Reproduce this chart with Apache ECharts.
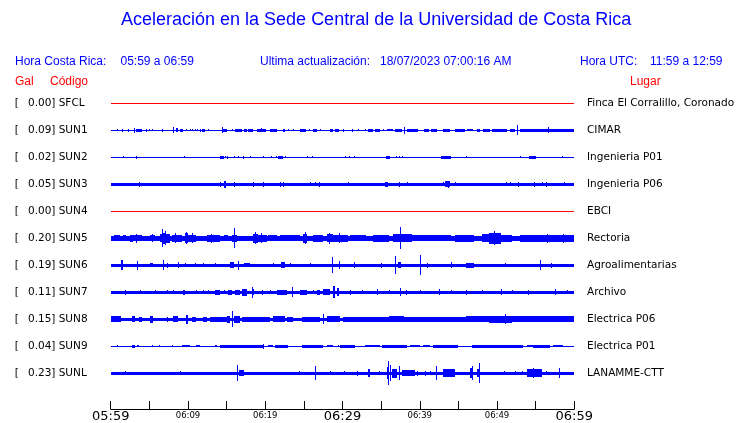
<!DOCTYPE html>
<html><head><meta charset="utf-8">
<script src="https://cdn.jsdelivr.net/npm/echarts@6/dist/echarts.min.js"></script>
<style>html,body{margin:0;padding:0;background:#fff}#c{width:740px;height:423px}</style>
</head><body><div id="c"></div>
<script>
// ---------------- data ----------------
const CODES  = ['SFCL','SUN1','SUN2','SUN3','SUN4','SUN5','SUN6','SUN7','SUN8','SUN9','SUNL'];
const GAL    = [0.00, 0.09, 0.02, 0.05, 0.00, 0.20, 0.19, 0.11, 0.15, 0.04, 0.23];
const PLACES = ['Finca El Corralillo, Coronado','CIMAR','Ingenieria P01','Ingenieria P06','EBCI',
                'Rectoria','Agroalimentarias','Archivo','Electrica P06','Electrica P01','LANAMME-CTT'];
// half-thickness of each trace's background band (display amplitude units)
const BASE   = [0.5, 0.5, 0.5, 1.5, 0.5, 2.5, 1.5, 1.5, 1.7, 0.5, 1.5];
// bursts: [start minute, end minute, half amplitude]  (minutes after 05:59)
const EV_SFCL = [];
const EV_SUN1 = [[0.86,0.86,1],[1.4,1.6,1.5],[2.3,2.3,1.5],[3.0,3.0,2.5],[3.3,4.0,1.5],[4.6,4.6,1.5],[4.9,4.9,1],[5.4,5.4,1],[6.6,6.6,1.5],[8.0,8.0,3],[8.45,8.75,2],[9.0,9.4,1.5],[9.8,9.8,1],[10.2,10.2,1],[10.5,10.5,1],[10.9,10.9,1],[11.2,11.2,1],[11.6,11.6,1.5],[11.8,12.2,1.5],[12.6,12.6,1],[14.4,14.4,3],[14.5,15.0,1.5],[15.7,15.7,1],[16.1,17.0,1.5],[17.25,17.7,1.5],[17.8,18.45,1.5],[18.9,20.1,1.5],[19.5,19.5,2],[20.6,21.5,1.5],[22.3,22.55,1.5],[23.0,23.0,1],[23.6,23.6,1],[24.5,25.3,1.5],[25.6,25.6,1],[26.2,26.7,1.5],[27.1,27.1,1],[28.4,28.8,1.5],[29.0,29.5,1.5],[30.0,30.0,1.5],[31.2,31.4,1.5],[32.0,32.0,1],[32.9,32.9,1],[33.3,34.0,1.5],[34.2,34.85,1.5],[35.3,35.3,1],[35.7,36.6,1],[36.8,37.7,1.5],[38.0,38.0,3.5],[38.3,39.8,1.5],[40.5,41.2,1.5],[41.5,42.2,1.5],[43.0,43.9,1.5],[44.6,45.85,1.5],[46.1,46.9,1],[47.4,47.8,1.5],[48.2,49.1,1.5],[49.3,51.25,1.5],[51.7,52.3,1.5],[52.55,52.55,5],[53.0,60,1.5],[56.6,56.6,3]];
const EV_SUN2 = [[1.6,1.6,1],[3.3,3.4,1.5],[9.5,9.5,1],[14.1,14.6,1.5],[14.8,14.8,1],[15.1,15.1,1.5],[15.9,15.9,1],[16.5,16.5,1],[17.1,17.1,1.5],[18.0,18.0,1],[19.75,19.75,1],[20.8,20.8,1],[21.35,21.35,1],[21.7,22.3,1.5],[22.5,22.5,1],[25.4,25.4,1],[26.1,26.1,1],[30.3,30.3,1],[30.9,30.9,1],[31.5,31.5,1],[35.6,36.1,1.5],[36.9,36.9,1],[37.35,37.35,1],[37.7,37.7,1],[42.7,44.1,1.5],[46.0,46.0,1],[53.0,53.0,1],[54.1,55.1,1.5],[58.4,58.4,1]];
const EV_SUN3 = [[3.6,3.6,2.5],[14.2,14.2,2.5],[14.7,14.9,3.5],[16.0,16.0,2.5],[18.45,18.45,2.5],[19.75,19.75,2.5],[21.9,21.9,2.5],[22.3,22.3,2.5],[25.8,25.8,2],[26.4,26.4,2],[26.9,26.9,2.5],[30.75,30.75,2],[35.5,35.9,2.5],[37.35,37.35,2.5],[38.3,38.3,2],[43.0,43.0,2],[43.3,43.9,3],[43.6,43.6,3.5],[44.6,44.6,2],[51.1,51.1,2],[51.7,51.7,2],[52.75,52.75,2.5],[54.8,54.8,2.5],[55.85,55.85,2],[56.4,56.4,2.5],[58.7,58.7,2]];
const EV_SUN4 = [];
const EV_SUN5 = [[0.43,1.2,3],[1.6,2.0,3],[2.5,2.9,3.5],[2.9,4.0,3],[3.3,3.3,4.5],[5.1,5.7,3],[5.3,5.3,4],[6.4,6.6,4],[6.7,6.7,9],[6.8,7.2,5.5],[7.0,7.0,7],[7.2,7.7,4.5],[7.9,9.2,3.5],[8.3,8.3,5],[9.6,10.05,5],[9.8,9.8,6],[10.05,11.1,3.5],[10.5,10.5,5],[12.4,14.1,3.5],[13.0,13.0,4.5],[14.6,15.2,3],[15.7,16.3,3.5],[16.0,16.0,10],[18.45,19.1,4.5],[18.7,18.7,6],[19.1,20.2,3.5],[19.5,19.5,5],[20.4,21.5,3],[21.9,24.5,3],[24.9,25.4,4.5],[25.1,25.1,6],[26.2,27.5,3.5],[27.95,28.8,4],[28.3,28.3,5.5],[28.8,30.75,3.5],[29.5,29.5,5],[31,33,3],[34,36,3.5],[36.5,39,4],[37.4,37.4,11],[39,41,3],[41,44,3],[44.5,47,3.5],[48,49,4],[49,50.5,5.5],[49.6,49.6,7],[50.5,52,3.5],[53,55,3.5],[55,60,3.5],[56.5,56.5,4.5],[58.5,58.5,4.5]];
const EV_SUN6 = [[1.3,1.6,5],[3.4,3.4,4.5],[5.1,5.5,2],[6.8,6.8,5],[7.25,7.25,2.5],[8.75,8.75,3],[9.6,9.6,2],[10.9,10.9,2],[12.0,12.0,2],[13.5,13.5,2],[15.4,15.9,3],[16.5,16.5,4.5],[17.2,18.0,2],[21.0,21.0,2],[22.1,22.55,3],[23.2,23.2,2],[25.8,25.8,2],[28.6,28.6,8],[29.6,29.6,4],[31.5,31.5,3],[35,35,2.5],[36.8,36.8,9],[37.2,37.6,3],[40.0,40.0,10],[41,41,2.5],[44,44,3],[46,47,2.5],[51,51,2],[55.6,55.6,5],[57,57,2.5]];
const EV_SUN7 = [[1.85,1.85,2.5],[3.8,3.8,2],[5.7,5.7,2],[7.25,7.25,2],[8.1,8.1,2],[9.3,9.6,2.5],[11.1,11.1,2],[12.0,12.0,2],[12.6,12.6,2],[13.5,14.15,2.5],[14.6,14.6,2],[15.2,15.65,2.5],[16.1,16.7,2.5],[16.95,17.6,3.5],[18.25,18.25,5.5],[18.45,18.45,3],[19.55,19.75,2.5],[20.6,20.8,2],[21.5,22.8,2.5],[23.4,23.6,5],[24.5,25.4,2.5],[26.2,26.2,2],[26.65,27.1,2.5],[27.5,28.4,3],[28.8,29.0,6],[29.3,29.6,4],[31,31,2.5],[32.5,32.5,2],[34.5,34.5,3],[36,36,2],[37.5,37.5,4],[38.2,38.2,2.5],[40,40,2],[42.5,42.5,3],[44,44,2],[46,46,2.5],[48,48,2],[50.5,50.5,3],[52,52,2],[54,54,2.5],[57.5,57.5,3],[59,59,2]];
const EV_SUN8 = [[0,1.3,3],[2.7,3.15,3],[3.6,4.0,2.5],[5.1,5.5,3.5],[7.25,7.25,2.5],[8.1,8.75,3],[9.75,10.05,4.5],[10.5,11.1,2.5],[12.0,12.4,2.5],[12.85,15.0,2.5],[15.0,15.45,3.5],[15.75,15.75,8],[15.9,16.7,3.5],[16.95,20.6,2.5],[21.05,22.55,3],[22.8,23.6,2.5],[24.7,27.1,2.5],[27.5,27.5,5],[27.95,29.7,3],[30,36,2.5],[36,38,3],[38,46,2.5],[46,47,3],[47,49,3],[49,52,3.5],[51,51,5],[52,60,3]];
const EV_SUN9 = [[0.86,0.86,1],[2.7,3.15,1.5],[3.35,3.7,1],[5.3,5.3,1],[6.3,6.3,1],[7.9,7.9,1],[9.2,10.25,1],[11.0,11.55,1],[13.5,13.7,1],[14.15,19.75,1.5],[19.75,19.75,2.5],[20.4,21.05,1],[21.25,23.0,1.5],[24.7,27.5,1.5],[27.95,28.8,1],[29.45,29.45,1],[29.7,31.6,1.5],[32.9,34.85,1],[35.05,38.3,1.5],[38.7,40.0,1],[40.45,41.3,1],[41.75,45.0,1.5],[46.7,48.65,1.5],[48.65,53.4,1.5],[53.85,54.7,1],[54.7,56.85,1.5],[57.3,58.6,1]];
const EV_SUNL = [[1.8,1.8,2],[9.0,9.0,2],[16.3,16.3,8],[16.6,17.2,3],[24.4,24.4,2],[26.4,26.4,7],[28.4,28.4,2],[30.2,30.2,2],[31.9,31.9,2.5],[33.35,33.55,4],[34.75,34.75,2],[35.7,35.8,6],[35.9,35.9,12],[36.15,36.15,8],[36.35,37.0,4.5],[37.35,37.35,7],[37.65,39.4,3],[39.7,39.7,2.5],[40.7,40.7,2.5],[41.3,41.3,2],[42.1,42.1,7],[43.05,44.55,4],[46.5,46.9,5],[46.8,46.8,7],[47.35,47.8,4],[47.7,47.7,10],[50.9,50.9,2],[52.3,52.3,2],[53.2,53.2,2],[53.85,55.8,4],[54.7,54.7,5],[56.4,56.4,2],[58.0,58.0,5]];
const EVENTS = [EV_SFCL,EV_SUN1,EV_SUN2,EV_SUN3,EV_SUN4,EV_SUN5,EV_SUN6,EV_SUN7,EV_SUN8,EV_SUN9,EV_SUNL];
const T_MIN = 0, T_MAX = 60, T_STEP = 5;
const TICK_MIN  = [0, 10, 20, 30, 40, 50, 60];
const TICK_TEXT = ['05:59','06:09','06:19','06:29','06:39','06:49','06:59'];
const MAJOR_TEXT = ['05:59','06:29','06:59'];

// ---------------- chart ----------------
const ROW_UNITS = 27;           // amplitude units per row height
const BLUE = '#0000ff', RED = '#ff0000';
const FONT = 'DejaVu Sans';
const LFS = 10.5;
const GRID_L = 110.7, GRID_R = 740 - 574.3;

function makeRender(color){
  return function(params, api){
    const t0 = api.value(0), t1 = api.value(1), amp = api.value(2), row = api.value(3);
    const p0 = api.coord([t0, row]), p1 = api.coord([t1, row]);
    const band = api.size([0, 1])[1];
    const half = amp * band / ROW_UNITS;
    const h = Math.max(1, Math.round(2 * half));
    const y = Math.round(p0[1] - h / 2);
    const x = Math.round(p0[0]);
    const w = Math.max(1, Math.round(p1[0]) - x);
    return {type:'rect', shape:{x:x, y:y, width:w, height:h}, style:{fill:color}};
  };
}

const series = CODES.map((code, i) => {
  const color = GAL[i] === 0 ? RED : BLUE;
  const data = [[T_MIN, T_MAX, BASE[i], i]].concat(EVENTS[i].map(e => [e[0], e[1], e[2], i]));
  return {type:'custom', name:code, xAxisIndex:0, yAxisIndex:0, silent:true,
          renderItem: makeRender(color), encode:{x:[0,1], y:3}, data:data, clip:false};
});

const chart = echarts.init(document.getElementById('c'), null, {renderer:'canvas'});
chart.setOption({
  animation:false,
  backgroundColor:'#ffffff',
  title:{text:'Aceleración en la Sede Central de la Universidad de Costa Rica', left:121, top:11, padding:0,
         textStyle:{color:BLUE, fontFamily:'Liberation Sans', fontSize:18, fontWeight:'normal'}},
  graphic:[
    {type:'text', left:15, top:56, style:{text:'Hora Costa Rica:', fill:BLUE, font:'12px "Liberation Sans"'}},
    {type:'text', left:120.5, top:56, style:{text:'05:59 a 06:59', fill:BLUE, font:'12px "Liberation Sans"'}},
    {type:'text', left:260, top:56, style:{text:'Ultima actualización:', fill:BLUE, font:'12px "Liberation Sans"'}},
    {type:'text', left:380, top:56, style:{text:'18/07/2023 07:00:16 AM', fill:BLUE, font:'12px "Liberation Sans"'}},
    {type:'text', left:580, top:56, style:{text:'Hora UTC:', fill:BLUE, font:'12px "Liberation Sans"'}},
    {type:'text', left:650, top:56, style:{text:'11:59 a 12:59', fill:BLUE, font:'12px "Liberation Sans"'}},
    {type:'text', left:15, top:75.5, style:{text:'Gal', fill:RED, font:'12px "Liberation Sans"'}},
    {type:'text', left:50, top:75.5, style:{text:'Código', fill:RED, font:'12px "Liberation Sans"'}},
    {type:'text', left:630, top:75.5, style:{text:'Lugar', fill:RED, font:'12px "Liberation Sans"'}}
  ],
  grid:[
    {left:GRID_L, right:GRID_R, top:89.5, height:297, containLabel:false, outerBoundsMode:'none'},
    {left:GRID_L, right:GRID_R, top:400.5, height:8.5, containLabel:false, outerBoundsMode:'none'}
  ],
  xAxis:[
    {gridIndex:0, type:'value', min:T_MIN, max:T_MAX, show:false},
    {gridIndex:1, type:'value', min:T_MIN, max:T_MAX, interval:T_STEP,
     axisLine:{show:true, lineStyle:{color:'#000', width:1}},
     axisTick:{show:true, inside:true, length:8, lineStyle:{color:'#000', width:1}},
     splitLine:{show:false},
     axisLabel:{margin:1, showMinLabel:true, showMaxLabel:true, color:'#000', fontFamily:FONT,
       formatter:function(v){
         const k = TICK_MIN.indexOf(v);
         if (k < 0) return '';
         const t = TICK_TEXT[k];
         return MAJOR_TEXT.indexOf(t) >= 0 ? '{M|' + t + '}' : '{m|' + t + '}';
       },
       rich:{M:{fontSize:13, lineHeight:14, fontFamily:FONT, color:'#000'},
             m:{fontSize:8.5, lineHeight:11, fontFamily:FONT, color:'#000'}}}}
  ],
  yAxis:[
    {gridIndex:0, type:'category', data:CODES, inverse:true,
     axisLine:{show:false}, axisTick:{show:false}, splitLine:{show:false},
     axisLabel:{align:'left', margin:96, color:'#000', fontFamily:FONT, fontSize:LFS,
       formatter:function(v, i){ return '{b|[}{g|' + GAL[i].toFixed(2) + ']}{c|' + CODES[i] + '}'; },
       rich:{b:{width:13, fontSize:LFS, fontFamily:FONT, color:'#000'},
             g:{width:28, align:'right', fontSize:LFS, fontFamily:FONT, color:'#000'},
             c:{padding:[0,0,0,3], fontSize:LFS, fontFamily:FONT, color:'#000'}}}},
    {gridIndex:0, type:'category', data:CODES, inverse:true, position:'right',
     axisLine:{show:false}, axisTick:{show:false}, splitLine:{show:false},
     axisLabel:{align:'left', margin:12.7, color:'#000', fontFamily:FONT, fontSize:LFS,
       formatter:function(v, i){ return PLACES[i]; }}},
    {gridIndex:1, type:'value', show:false, min:0, max:1}
  ],
  series:series
});
</script></body></html>
